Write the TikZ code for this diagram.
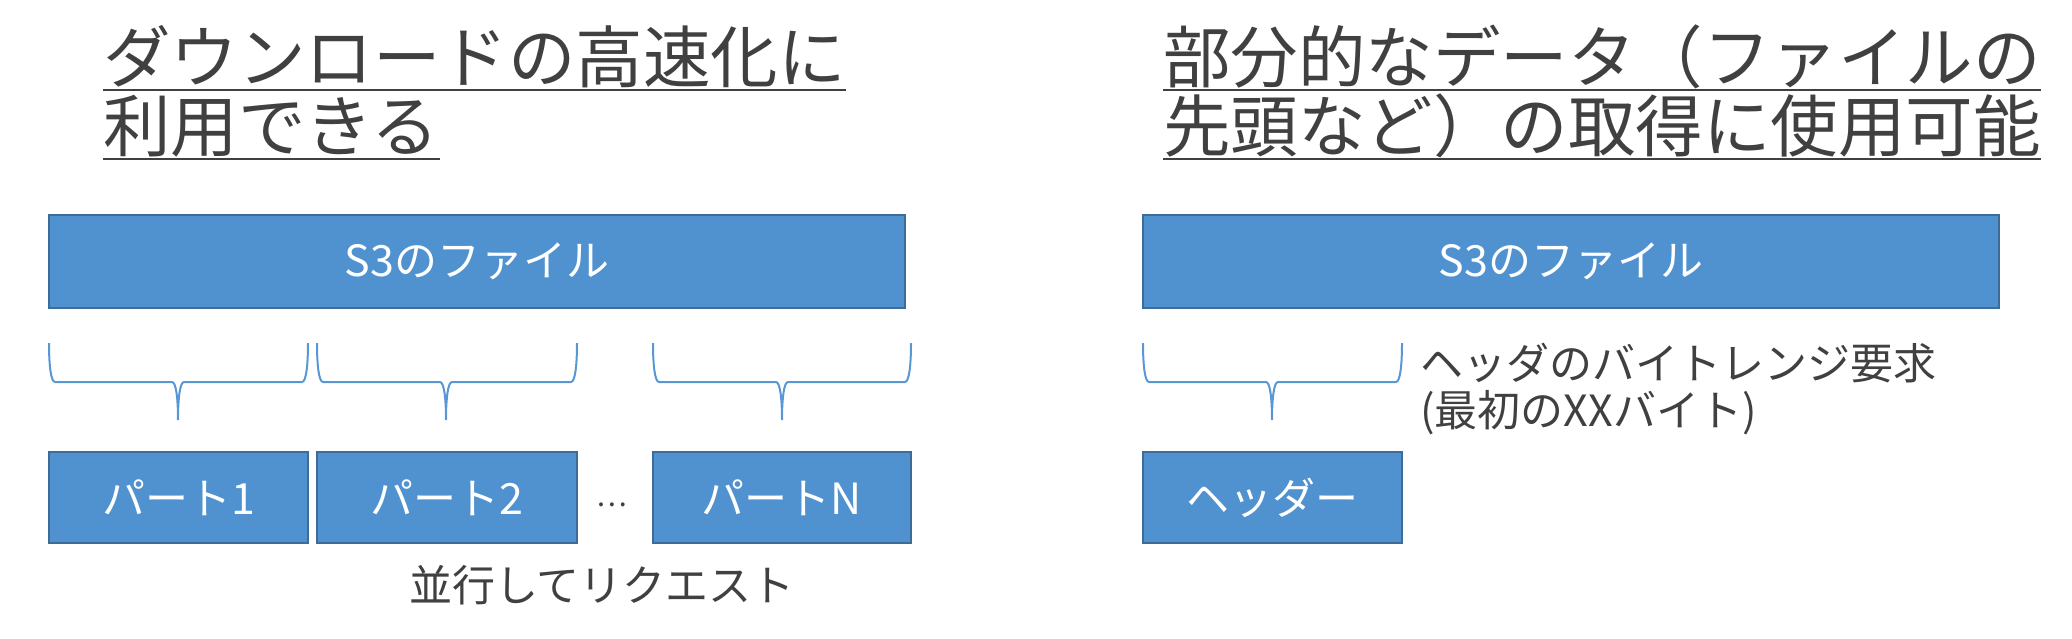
\documentclass[tikz,border=0pt]{standalone}
\usepackage{fontspec}
\setmainfont{Noto Sans CJK JP}
\definecolor{boxfill}{RGB}{80,146,207}
\definecolor{boxline}{RGB}{62,108,152}
\definecolor{bracecol}{RGB}{88,150,212}
\definecolor{txt}{RGB}{64,64,64}
\newcommand\mybrace[3]{%
  \draw[bracestyle] (#1,343) .. controls (#1,366) and ({#1+2},382) .. ({#1+6},382)
    -- ({#3-6},382) .. controls ({#3-2},382) and (#3,398) .. (#3,420)
    .. controls (#3,398) and ({#3+2},382) .. ({#3+6},382)
    -- ({#2-6},382) .. controls ({#2-2},382) and (#2,366) .. (#2,343);}
\begin{document}
\begin{tikzpicture}[x=1pt,y=-1pt,
  blk/.style={draw=boxline,line width=2.5pt,fill=boxfill,text=white,
    font=\fontsize{43}{50}\selectfont,inner sep=0pt,outer sep=0pt},
  lbl/.style={text=txt,font=\fontsize{43}{50}\selectfont,inner sep=0pt},
  ttl/.style={text=txt,font=\fontsize{67.5}{69}\selectfont,inner sep=0pt,anchor=base west},
  uline/.style={draw=txt,line width=2.6pt},
  bracestyle/.style={draw=bracecol,line width=2pt}]
\useasboundingbox (0,0) rectangle (2072,638);
% titles
\node[ttl] (t1) at (103,82) {ダウンロードの高速化に};
\node[ttl] (t2) at (103,151) {利用できる};
\node[ttl] (t3) at (1163,82) {部分的なデータ（ファイルの};
\node[ttl] (t4) at (1163,151) {先頭など）の取得に使用可能};
\foreach \t in {t1,t2,t3,t4}
  \draw[uline] ([yshift=-8pt]\t.base west) -- ([yshift=-8pt]\t.base east);
% left side
\node[blk,minimum width=856pt,minimum height=93pt] (f1) at (477,261.5) {S3のファイル};
\node[blk,minimum width=259pt,minimum height=91pt] (p1) at (178.5,497.5) {パート1};
\node[blk,minimum width=260pt,minimum height=91pt] (p2) at (447,497.5) {パート2};
\node[blk,minimum width=258pt,minimum height=91pt] (pn) at (782,497.5) {パートN};
\node[text=txt,font=\fontsize{29}{32}\selectfont,inner sep=0pt] (dots) at (612,505) {…};
\mybrace{49}{308}{178}
\mybrace{317}{577}{446}
\mybrace{653}{911}{782}
\node[lbl] (par) at (602,585) {並行してリクエスト};
% right side
\node[blk,minimum width=856pt,minimum height=93pt] (f2) at (1571,261.5) {S3のファイル};
\node[blk,minimum width=259pt,minimum height=91pt] (hd) at (1272.5,497.5) {ヘッダー};
\mybrace{1143}{1402}{1272}
\node[lbl,anchor=west] (r1) at (1420,363) {ヘッダのバイトレンジ要求};
\node[lbl,anchor=west] (r2) at (1420,413) {(最初のXXバイト)};
\end{tikzpicture}
\end{document}
